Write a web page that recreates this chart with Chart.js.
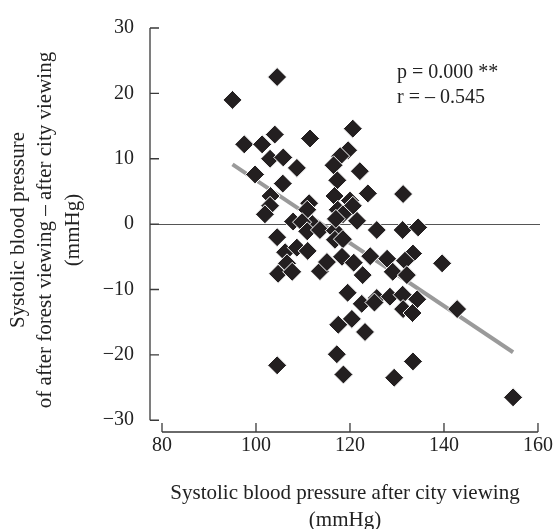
<!DOCTYPE html>
<html>
<head>
<meta charset="utf-8">
<script src="https://cdn.jsdelivr.net/npm/chart.js@4/dist/chart.umd.min.js"></script>
<style>
  html, body { margin: 0; padding: 0; background: #fff; }
  #wrap { width: 558px; height: 529px; }
</style>
</head>
<body>
<div id="wrap"><canvas id="mycanvas" width="558" height="529"></canvas></div>
<script>
// systolic BP after city viewing (x) vs forest - city difference (y)
var cityBP = [95, 104.5, 97.5, 101.3, 104, 103, 105.8, 108.7, 99.8, 105.7,
  111.5, 120.6, 119.6, 117.9, 116.5, 122.1, 117.3,
  103.1, 116.7, 123.8, 131.3, 120, 111.3, 103, 101.9, 120.6, 117.4, 118.5, 121.5, 107.9, 110.9, 112, 109.8,
  110.9, 113.6, 116.8, 116.8, 118.5, 125.7, 131.2, 134.5,
  104.5, 106.2, 108.7, 111, 106.6, 104.7, 107.7, 113.6, 115.1, 118.3, 120.8, 124.3, 122.7,
  127.9, 133.4, 131.7, 129.1, 132.1, 139.6,
  119.5, 122.5, 125.7, 128.5, 131.2, 134.3, 131.3, 133.3, 142.8, 125.2,
  117.5, 120.4, 123.2, 117.2, 118.6, 129.4, 133.4, 154.7, 104.5, 117];
var diffBP = [19, 22.5, 12.2, 12.2, 13.7, 10, 10.2, 8.6, 7.6, 6.2,
  13.1, 14.6, 11.3, 10.4, 9, 8.1, 6.7,
  4.3, 4.3, 4.7, 4.6, 3.6, 3.2, 2.8, 1.5, 2.8, 2.2, 1.5, 0.5, 0.4, 2.2, 0, 0.3,
  -1.1, -0.9, -1, -2.4, -2.3, -0.9, -0.9, -0.5,
  -2, -4.3, -3.6, -4.1, -6, -7.6, -7.3, -7.2, -5.8, -5, -5.9, -4.9, -7.8,
  -5.3, -4.5, -5.6, -7.3, -7.8, -6,
  -10.5, -12.2, -11.3, -11.1, -10.8, -11.5, -13, -13.6, -13, -12,
  -15.4, -14.5, -16.5, -19.9, -23, -23.5, -21, -26.5, -21.6, 0.8];

// regression line end points
var trendX = [95, 154.7];
var trendY = [9.15, -19.6];

var xTicks = [80, 100, 120, 140, 160];
var yTicks = [-30, -20, -10, 0, 10, 20, 30];

var points = [];
for (var i in cityBP) {
  points.push({x: cityBP[i], y: diffBP[i]});
}
var trend = [];
for (var j in trendX) {
  trend.push({x: trendX[j], y: trendY[j]});
}

var serif = "'Liberation Serif', 'Times New Roman', serif";
var axisColor = '#3a3a3a';

// axis lines with inward ticks, plus the p / r note
var axesPlugin = {
  id: 'axesPlugin',
  beforeDatasetsDraw: function(chart) {
    var c = chart.ctx;
    var xs = chart.scales.x, ys = chart.scales.y;
    var left = chart.chartArea.left;
    var bottom = chart.chartArea.bottom;
    c.save();
    c.strokeStyle = axisColor;
    c.lineWidth = 1.3;
    c.beginPath();
    c.moveTo(left, ys.getPixelForValue(30));
    c.lineTo(left, ys.getPixelForValue(-30));
    for (var k in yTicks) {
      var py = ys.getPixelForValue(yTicks[k]);
      c.moveTo(left, py);
      c.lineTo(left + 9, py);
    }
    c.moveTo(xs.getPixelForValue(80), bottom);
    c.lineTo(xs.getPixelForValue(160), bottom);
    for (var m in xTicks) {
      var px = xs.getPixelForValue(xTicks[m]);
      c.moveTo(px, bottom);
      c.lineTo(px, bottom - 9);
    }
    c.stroke();

    c.fillStyle = '#222';
    c.font = '20px ' + serif;
    c.textAlign = 'left';
    c.textBaseline = 'middle';
    c.fillText('p = 0.000 **', xs.getPixelForValue(130), ys.getPixelForValue(23.2));
    c.fillText('r = \u2013 0.545', xs.getPixelForValue(130), ys.getPixelForValue(19.3));
    c.restore();
  }
};

var ctx = document.getElementById('mycanvas');

var scatter = new Chart(ctx, {
  type: 'scatter',
  data: {
    datasets: [
      {
        label: 'subjects',
        data: points,
        pointStyle: 'rectRot',
        pointRadius: 9.5,
        pointHoverRadius: 9.5,
        backgroundColor: '#231f20',
        borderColor: '#ffffff',
        borderWidth: 1
      },
      {
        label: 'trend',
        type: 'line',
        data: trend,
        borderColor: '#9a9a9a',
        borderWidth: 4,
        pointRadius: 0,
        fill: false
      }
    ]
  },
  options: {
    responsive: false,
    animation: false,
    devicePixelRatio: 1,
    layout: { padding: { top: 20, right: 18, left: 0, bottom: 0 } },
    plugins: {
      legend: { display: false },
      tooltip: { enabled: false }
    },
    scales: {
      x: {
        type: 'linear',
        min: 77.447,
        max: 160.43,
        afterBuildTicks: function(scale) {
          scale.ticks = xTicks.map(function(v) { return {value: v}; });
        },
        afterFit: function(scale) { scale.height = 97; },
        grid: { display: false, drawTicks: false },
        border: { display: false },
        ticks: {
          padding: 2,
          color: '#222',
          font: { family: serif, size: 20 },
          maxRotation: 0
        },
        title: {
          display: true,
          text: ['Systolic blood pressure after city viewing', '(mmHg)'],
          color: '#222',
          font: { family: serif, size: 21, lineHeight: 1.3 },
          padding: { top: 0, bottom: -5 }
        }
      },
      y: {
        type: 'linear',
        min: -31.8,
        max: 30,
        afterBuildTicks: function(scale) {
          scale.ticks = yTicks.map(function(v) { return {value: v}; });
        },
        afterFit: function(scale) { scale.width = 150; },
        grid: {
          drawTicks: false,
          lineWidth: 1,
          color: function(c) {
            return (c.tick && c.tick.value === 0) ? '#555' : 'rgba(0,0,0,0)';
          }
        },
        border: { display: false },
        ticks: {
          padding: 16,
          color: '#222',
          font: { family: serif, size: 20 },
          callback: function(v) { return v < 0 ? '\u2212' + Math.abs(v) : '' + v; }
        },
        title: {
          display: true,
          text: ['Systolic blood pressure', 'of after forest viewing \u2013 after city viewing', '(mmHg)'],
          color: '#222',
          font: { family: serif, size: 21, lineHeight: 1.3 },
          padding: { top: 5, bottom: 0 }
        }
      }
    }
  },
  plugins: [axesPlugin]
});
</script>
</body>
</html>
